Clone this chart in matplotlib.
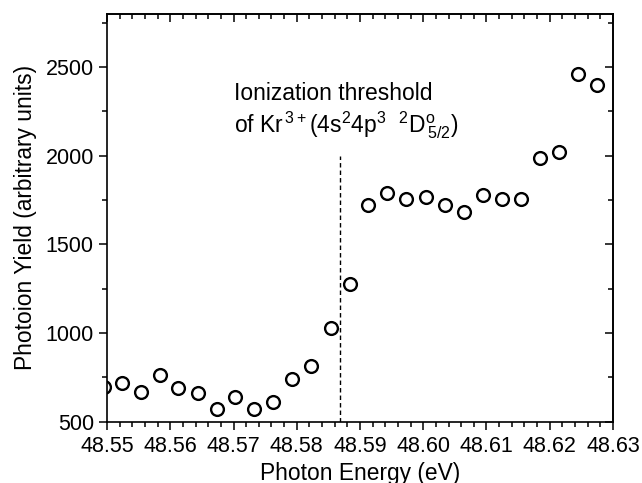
import matplotlib
matplotlib.use("Agg")
import matplotlib.pyplot as plt
from matplotlib.ticker import MultipleLocator, FormatStrFormatter

plt.rcParams['font.family'] = ['Liberation Sans', 'DejaVu Sans']
plt.rcParams['mathtext.fontset'] = 'custom'
plt.rcParams['mathtext.rm'] = 'Liberation Sans'
plt.rcParams['mathtext.it'] = 'Liberation Sans:italic'

# photon energy (eV) and Kr3+ photoion yield
energy = [48.5495, 48.5523, 48.5554, 48.5584, 48.5613, 48.5644, 48.5674,
          48.5703, 48.5733, 48.5763, 48.5793, 48.5823, 48.5854, 48.5884,
          48.5913, 48.5943, 48.5973, 48.6004, 48.6034, 48.6064, 48.6095,
          48.6124, 48.6154, 48.6185, 48.6214, 48.6245, 48.6275]
yield_ = [694, 720, 669, 765, 692, 664, 570, 641, 570, 611, 739, 814,
          1030, 1276, 1720, 1790, 1756, 1767, 1722, 1684, 1780, 1757,
          1757, 1985, 2021, 2460, 2402]

threshold = 48.5869
threshold_top = 2000

fig = plt.figure(figsize=(6.42, 4.83), dpi=100)
ax = fig.add_axes([0.1667, 0.127, 0.7881, 0.844])

ax.plot(energy, yield_, linestyle='none', marker='o', markersize=9.2,
        markerfacecolor='none', markeredgecolor='black', markeredgewidth=1.7)
ax.plot([threshold, threshold], [500, threshold_top], color='black', lw=1.0,
        linestyle=(0, (3.2, 2.2)))

ax.text(48.5701, 2314, 'Ionization threshold', fontsize=16.5, va='baseline')
ax.text(48.5701, 2130,
        r'of Kr$^{\,3+}$(4s$^2$4p$^3$  $^2$D$^{\rm o}_{\,5/2}$)',
        fontsize=16.5, va='baseline')

ax.set_xlim(48.55, 48.63)
ax.set_ylim(500, 2800)
ax.xaxis.set_major_locator(MultipleLocator(0.01))
ax.xaxis.set_minor_locator(MultipleLocator(0.002))
ax.yaxis.set_major_locator(MultipleLocator(500))
ax.yaxis.set_minor_locator(MultipleLocator(250))
ax.xaxis.set_major_formatter(FormatStrFormatter('%.2f'))

for s in ax.spines.values():
    s.set_linewidth(1.2)

ax.tick_params(which='both', direction='out', top=False, right=False,
               labelsize=15.5, width=1.1)
ax.tick_params(axis='x', pad=5)
ax.tick_params(axis='y', pad=4)
ax.tick_params(which='major', length=5.5)
ax.tick_params(which='minor', length=3.5)

# mirrored ticks on top and right, pointing inward
sec_x = ax.secondary_xaxis('top')
sec_x.xaxis.set_major_locator(MultipleLocator(0.01))
sec_x.xaxis.set_minor_locator(MultipleLocator(0.002))
sec_x.tick_params(which='both', direction='in', labeltop=False, width=1.1)
sec_x.tick_params(which='major', length=5.5)
sec_x.tick_params(which='minor', length=3.5)
sec_x.spines['top'].set_linewidth(1.2)
sec_y = ax.secondary_yaxis('right')
sec_y.yaxis.set_major_locator(MultipleLocator(500))
sec_y.yaxis.set_minor_locator(MultipleLocator(250))
sec_y.tick_params(which='both', direction='in', labelright=False, width=1.1)
sec_y.tick_params(which='major', length=5.5)
sec_y.tick_params(which='minor', length=3.5)
sec_y.spines['right'].set_linewidth(1.2)

ax.set_xlabel('Photon Energy (eV)', fontsize=16.4, labelpad=3.5)
ax.set_ylabel('Photoion Yield (arbitrary units)', fontsize=16.4, labelpad=6)

fig.savefig('out.png', dpi=100)
